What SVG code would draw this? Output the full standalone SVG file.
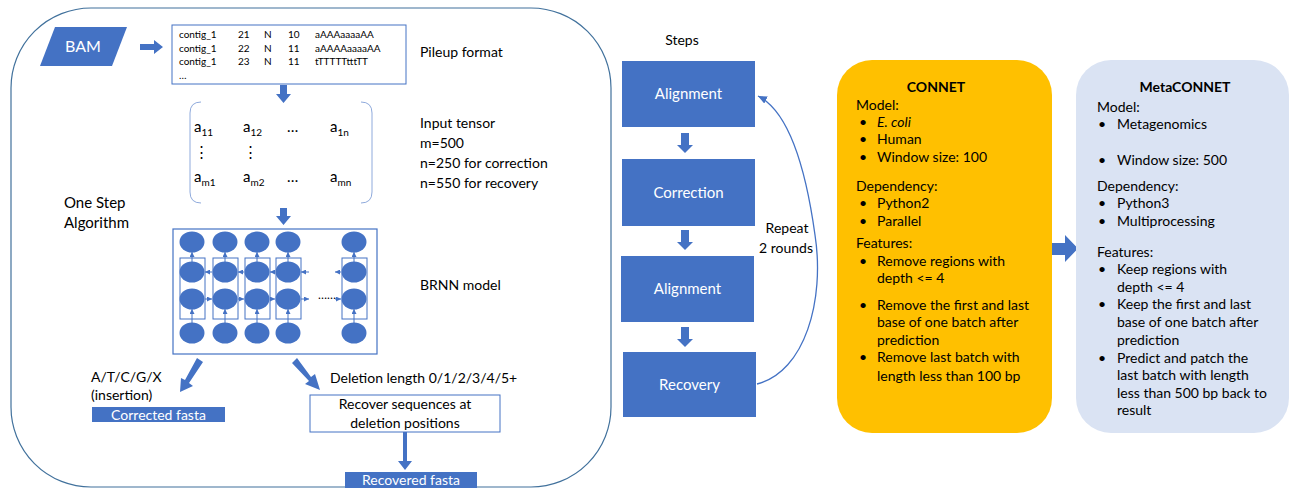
<svg xmlns="http://www.w3.org/2000/svg" width="1291" height="488" viewBox="0 0 1291 488">
<style>
text{font-family:Lato,"Liberation Sans",sans-serif;fill:#000}
.t{font-size:14px}
.w{fill:#fff;font-size:14px}
.pu{font-size:10px}
.m{font-size:15px}
.sub{font-size:10px}
.blue{fill:#4472C4}
.ln{fill:none;stroke:#4472C4;stroke-width:1.2}
.fr{fill:none;stroke:#41719C;stroke-width:1.2}
.el{fill:#4472C4}
.cn{font-size:14px}
.b{font-weight:bold}
</style>
<defs>
<marker id="sa" markerUnits="userSpaceOnUse" markerWidth="5" markerHeight="5" refX="5" refY="2.5" orient="auto"><path d="M0,0L5,2.5L0,5z" fill="#4472C4"/></marker>
<marker id="la" markerUnits="userSpaceOnUse" markerWidth="9" markerHeight="8" refX="9" refY="4" orient="auto"><path d="M0,0L9,4L0,8z" fill="#4472C4"/></marker>
</defs>
<rect width="1291" height="488" fill="#fff"/>

<g id="frame"><rect x="11" y="8" width="600" height="479" rx="80" ry="80" class="fr"/></g>

<g id="bam"><polygon points="55,27 127,27 112,66 40,66" class="blue"/><text x="83" y="52" class="w" text-anchor="middle" font-size="16" style="font-size:16px">BAM</text></g>

<g id="pileup">
<rect x="172" y="25" width="234" height="59" fill="#fff" stroke="#4472C4" stroke-width="1"/>
<text class="pu" y="38"><tspan x="179">contig_1</tspan><tspan x="238">21</tspan><tspan x="264">N</tspan><tspan x="288">10</tspan><tspan x="315">aAAAaaaaAA</tspan></text>
<text class="pu" y="52"><tspan x="179">contig_1</tspan><tspan x="238">22</tspan><tspan x="264">N</tspan><tspan x="288">11</tspan><tspan x="315">aAAAAaaaaAA</tspan></text>
<text class="pu" y="65"><tspan x="179">contig_1</tspan><tspan x="238">23</tspan><tspan x="264">N</tspan><tspan x="288">11</tspan><tspan x="315">tTTTTTtttTT</tspan></text>
<text class="pu" y="79" x="179">…</text>
<text class="t" x="420" y="57">Pileup format</text>
</g>

<g id="tensor">
<path d="M201,102 Q190,102 190,113 L190,192 Q190,203 201,203" fill="none" stroke="#8FAADC" stroke-width="1"/>
<path d="M361,102 Q372,102 372,113 L372,192 Q372,203 361,203" fill="none" stroke="#8FAADC" stroke-width="1"/>
<text class="m" x="194" y="132">a<tspan class="sub" dy="4">11</tspan></text>
<text class="m" x="243" y="132">a<tspan class="sub" dy="4">12</tspan></text>
<text class="m" x="287" y="132">…</text>
<text class="m" x="330" y="132">a<tspan class="sub" dy="4">1n</tspan></text>
<text class="m" x="194" y="157">⋮</text>
<text class="m" x="243" y="157">⋮</text>
<text class="m" x="194" y="182">a<tspan class="sub" dy="4">m1</tspan></text>
<text class="m" x="243" y="182">a<tspan class="sub" dy="4">m2</tspan></text>
<text class="m" x="287" y="182">…</text>
<text class="m" x="330" y="182">a<tspan class="sub" dy="4">mn</tspan></text>
<text class="t" x="420" y="128">Input tensor</text>
<text class="t" x="420" y="148">m=500</text>
<text class="t" x="420" y="168">n=250 for correction</text>
<text class="t" x="420" y="188">n=550 for recovery</text>
</g>

<g id="onestep"><text class="m" x="64" y="208">One Step</text><text class="m" x="64" y="228">Algorithm</text></g>

<g id="brnn">
<rect x="173" y="229" width="204" height="125" fill="#fff" stroke="#4472C4" stroke-width="1.2"/>
<g fill="none" stroke="#4472C4" stroke-width="1">
<rect x="180" y="258" width="25" height="61"/><rect x="213" y="258" width="25" height="61"/><rect x="245" y="258" width="25" height="61"/><rect x="276" y="258" width="25" height="61"/><rect x="342" y="258" width="25" height="61"/>
</g>
<g class="el">
<ellipse cx="192" cy="242" rx="12.5" ry="10.5"/><ellipse cx="225" cy="242" rx="12.5" ry="10.5"/><ellipse cx="257" cy="242" rx="12.5" ry="10.5"/><ellipse cx="288" cy="242" rx="12.5" ry="10.5"/><ellipse cx="354" cy="242" rx="12.5" ry="10.5"/>
<ellipse cx="192" cy="272" rx="12.5" ry="10.5"/><ellipse cx="225" cy="272" rx="12.5" ry="10.5"/><ellipse cx="257" cy="272" rx="12.5" ry="10.5"/><ellipse cx="288" cy="272" rx="12.5" ry="10.5"/><ellipse cx="354" cy="272" rx="12.5" ry="10.5"/>
<ellipse cx="192" cy="299" rx="12.5" ry="10.5"/><ellipse cx="225" cy="299" rx="12.5" ry="10.5"/><ellipse cx="257" cy="299" rx="12.5" ry="10.5"/><ellipse cx="288" cy="299" rx="12.5" ry="10.5"/><ellipse cx="354" cy="299" rx="12.5" ry="10.5"/>
<ellipse cx="192" cy="333" rx="12.5" ry="10.5"/><ellipse cx="225" cy="333" rx="12.5" ry="10.5"/><ellipse cx="257" cy="333" rx="12.5" ry="10.5"/><ellipse cx="288" cy="333" rx="12.5" ry="10.5"/><ellipse cx="354" cy="333" rx="12.5" ry="10.5"/>
</g>
<text x="318" y="299" style="font-size:12px">……</text>
<text class="t" x="420" y="290">BRNN model</text>
</g>

<g id="connectors">
<g stroke="#4472C4" stroke-width="1" marker-end="url(#sa)">
<line x1="192" y1="262" x2="192" y2="252"/><line x1="225" y1="262" x2="225" y2="252"/><line x1="257" y1="262" x2="257" y2="252"/><line x1="288" y1="262" x2="288" y2="252"/><line x1="354" y1="262" x2="354" y2="252"/>
<line x1="192" y1="323" x2="192" y2="309"/><line x1="225" y1="323" x2="225" y2="309"/><line x1="257" y1="323" x2="257" y2="309"/><line x1="288" y1="323" x2="288" y2="309"/><line x1="354" y1="323" x2="354" y2="309"/>
<line x1="212" y1="272" x2="205" y2="272"/><line x1="244" y1="272" x2="238" y2="272"/><line x1="275" y1="272" x2="270" y2="272"/><line x1="309" y1="272" x2="301" y2="272"/><line x1="341" y1="272" x2="335" y2="272"/>
<line x1="205" y1="299" x2="212" y2="299"/><line x1="238" y1="299" x2="244" y2="299"/><line x1="270" y1="299" x2="275" y2="299"/><line x1="301" y1="299" x2="309" y2="299"/><line x1="335" y1="299" x2="341" y2="299"/>
</g>
<g class="blue">
<polygon points="140,44 154,44 154,40 163,47 154,54 154,50 140,50"/>
<polygon points="280,85 287,85 287,94 291,94 283.5,103 276,94 280,94"/>
<polygon points="280,208 287,208 287,216 291,216 283.5,225 276,216 280,216"/>
<polygon points="197,358 203,362 189,383 193,386 180,392 181,378 185,380"/>
<polygon points="292,363 297,358 311,377 315,374 320,390 305,384 309,381"/>
<polygon points="403,432 407,432 407,461 412,461 405,470 398,461 403,461"/>
<polygon points="681,133 689,133 689,145 693,145 685,153 677,145 681,145"/>
<polygon points="681,230 689,230 689,242 693,242 685,250 677,242 681,242"/>
<polygon points="681,327 689,327 689,339 693,339 685,347 677,339 681,339"/>
<polygon points="1052,243 1065,243 1065,235 1078,248.5 1065,262 1065,255 1052,255"/>
</g>
<path d="M757,384 C805,372 825,300 815,235 C806,170 790,112 758,96" fill="none" stroke="#4472C4" stroke-width="1.3" marker-end="url(#la)"/>
</g>

<g id="outputs">
<text class="t" x="91" y="382">A/T/C/G/X</text>
<text class="t" x="91" y="400">(insertion)</text>
<rect x="92" y="407" width="133" height="15" class="blue"/>
<text class="w" x="158.5" y="419.5" text-anchor="middle">Corrected fasta</text>
<text class="t" x="330" y="383">Deletion length 0/1/2/3/4/5+</text>
<rect x="310" y="395" width="190" height="37" fill="#fff" stroke="#4472C4" stroke-width="1"/>
<text class="t" x="405" y="409" text-anchor="middle">Recover sequences at</text>
<text class="t" x="405" y="428" text-anchor="middle">deletion positions</text>
<rect x="345" y="472" width="132" height="18" class="blue"/>
<text class="w" x="411" y="485" text-anchor="middle">Recovered fasta</text>
</g>

<g id="steps">
<text class="t" x="682" y="45" text-anchor="middle">Steps</text>
<rect x="622" y="61" width="133" height="66" class="blue"/><text class="w" x="688.5" y="99" text-anchor="middle" style="font-size:15px">Alignment</text>
<rect x="622" y="159" width="133" height="67" class="blue"/><text class="w" x="688.5" y="198" text-anchor="middle" style="font-size:15px">Correction</text>
<rect x="621" y="256" width="133" height="66" class="blue"/><text class="w" x="687.5" y="294" text-anchor="middle" style="font-size:15px">Alignment</text>
<rect x="623" y="352" width="133" height="65" class="blue"/><text class="w" x="689.5" y="390" text-anchor="middle" style="font-size:15px">Recovery</text>
<text class="t" x="787" y="233" text-anchor="middle">Repeat</text>
<text class="t" x="786" y="253" text-anchor="middle">2 rounds</text>
</g>

<g id="connet">
<rect x="837" y="60" width="215" height="373" rx="35" fill="#FFC000"/>
<text class="cn b" x="936" y="92" text-anchor="middle">CONNET</text>
<g class="cn">
<text x="856" y="110">Model:</text>
<text x="859" y="127">•</text><text x="877" y="127" font-style="italic">E. coli</text>
<text x="859" y="144">•</text><text x="877" y="144">Human</text>
<text x="859" y="162">•</text><text x="877" y="162">Window size: 100</text>
<text x="856" y="191">Dependency:</text>
<text x="859" y="208">•</text><text x="877" y="208">Python2</text>
<text x="859" y="226">•</text><text x="877" y="226">Parallel</text>
<text x="856" y="248">Features:</text>
<text x="859" y="266">•</text><text x="877" y="266">Remove regions with</text>
<text x="877" y="283">depth &lt;= 4</text>
<text x="859" y="310">•</text><text x="877" y="310">Remove the first and last</text>
<text x="877" y="327">base of one batch after</text>
<text x="877" y="345">prediction</text>
<text x="859" y="362">•</text><text x="877" y="362">Remove last batch with</text>
<text x="877" y="381">length less than 100 bp</text>
</g>
</g>

<g id="metaconnet">
<rect x="1076" y="60" width="213" height="373" rx="35" fill="#DAE3F3"/>
<text class="cn b" x="1185" y="92" text-anchor="middle">MetaCONNET</text>
<g class="cn">
<text x="1097" y="112">Model:</text>
<text x="1098" y="129">•</text><text x="1117" y="129">Metagenomics</text>
<text x="1098" y="165">•</text><text x="1117" y="165">Window size: 500</text>
<text x="1097" y="191">Dependency:</text>
<text x="1098" y="208">•</text><text x="1117" y="208">Python3</text>
<text x="1098" y="226">•</text><text x="1117" y="226">Multiprocessing</text>
<text x="1097" y="257">Features:</text>
<text x="1098" y="274">•</text><text x="1117" y="274">Keep regions with</text>
<text x="1117" y="292">depth &lt;= 4</text>
<text x="1098" y="309">•</text><text x="1117" y="309">Keep the first and last</text>
<text x="1117" y="327">base of one batch after</text>
<text x="1117" y="345">prediction</text>
<text x="1098" y="363">•</text><text x="1117" y="363">Predict and patch the</text>
<text x="1117" y="380">last batch with length</text>
<text x="1117" y="398">less than 500 bp back to</text>
<text x="1117" y="415">result</text>
</g>
</g>
</svg>
